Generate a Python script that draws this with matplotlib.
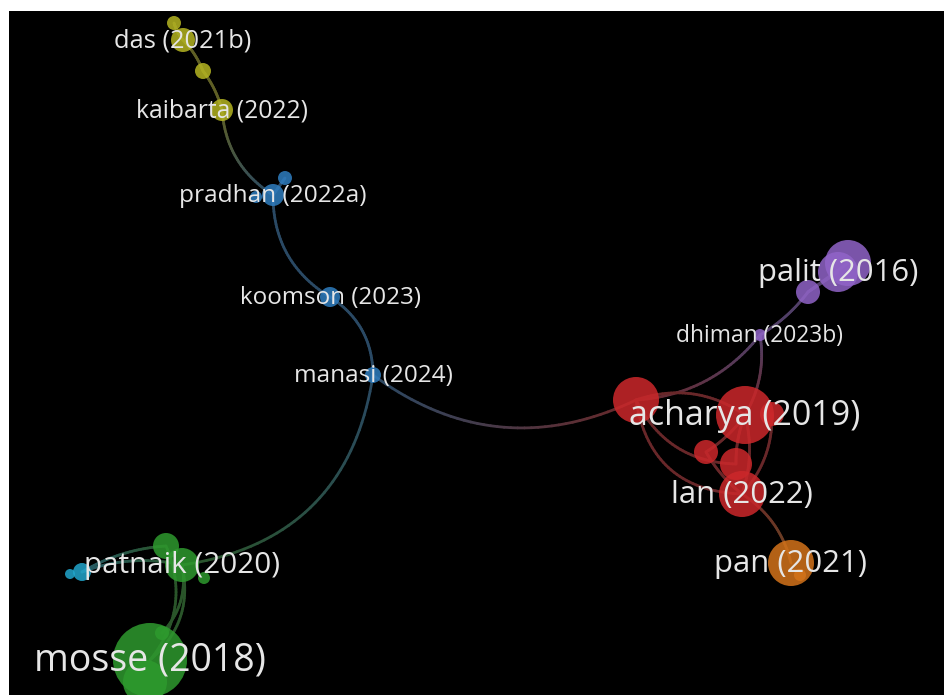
import numpy as np
import matplotlib.pyplot as plt
from matplotlib.patches import Circle
from matplotlib.collections import LineCollection
from matplotlib.colors import to_rgb

# cluster colours
group_colors = {
    'yellow': '#b5b522',
    'blue': '#2f7dc0',
    'purple': '#9164c8',
    'red': '#cc282b',
    'orange': '#d4731a',
    'green': '#2e9a2e',
    'cyan': '#22a6cc',
}

# nodes (x, y in map units, radius = weight)
node_x = [174, 183, 203, 222, 285, 273, 256, 330, 373,
          848, 838, 808, 760,
          636, 745, 772, 706, 736, 742,
          791, 800,
          166, 182, 204, 162, 150, 145,
          70, 82]
node_y = [23, 40, 71, 110, 178, 195, 197, 297, 375,
          263, 272, 292, 335,
          400, 415, 414, 452, 464, 494,
          563, 575,
          546, 565, 578, 633, 660, 682,
          574, 572]
node_w = [7, 12, 8, 11, 7, 11, 6, 10, 8,
          23, 20, 12, 6,
          23, 29, 12, 12, 16, 23,
          23, 6,
          13, 17, 6, 7, 37, 22,
          5, 9]
node_group = ['yellow'] * 4 + ['blue'] * 5 + ['purple'] * 4 + ['red'] * 6 + \
             ['orange'] * 2 + ['green'] * 6 + ['cyan'] * 2

# labels: node index, text, font size
label_node = [1, 3, 5, 7, 8, 12, 10, 14, 18, 19, 22, 25]
label_text = ['das (2021b)', 'kaibarta (2022)', 'pradhan (2022a)', 'koomson (2023)',
              'manasi (2024)', 'dhiman (2023b)', 'palit (2016)', 'acharya (2019)',
              'lan (2022)', 'pan (2021)', 'patnaik (2020)', 'mosse (2018)']
label_size = [18.4, 17.7, 17.6, 17.4, 17.5, 16.4, 22.3, 24.5, 22.4, 22.4, 21.3, 27]

# links: source, target, curvature
edge_src = [0, 1, 2, 3, 5, 5, 7, 8, 8, 13, 12, 11, 11, 12,
            13, 13, 13, 16, 16, 17, 14, 15, 18,
            22, 21, 22, 28, 28]
edge_dst = [1, 2, 3, 5, 4, 7, 8, 22, 13, 12, 11, 10, 9, 14,
            14, 18, 17, 14, 18, 14, 18, 18, 19,
            25, 25, 24, 22, 21]
edge_bend = [0.1, -0.1, -0.1, 0.25, 0.0, 0.28, -0.27, -0.37, 0.3, 0.22, 0.1, 0.0, 0.0, -0.18,
             -0.25, 0.41, 0.3, 0.1, 0.1, -0.1, -0.15, -0.2, -0.2,
             -0.3, -0.3, -0.25, -0.15, -0.12]

fig = plt.figure(figsize=(9.44, 6.95), dpi=100, facecolor='white')
ax = fig.add_axes([9 / 944, 0, 935 / 944, 684 / 695])
ax.set_facecolor('black')
ax.set_xlim(9, 944)
ax.set_ylim(695, 11)
ax.set_xticks([])
ax.set_yticks([])
for s in ax.spines.values():
    s.set_visible(False)

# curved links with colour running from one cluster to the other
t = np.linspace(0, 1, 40)
grey = np.array([0.6, 0.6, 0.6])
for a, b, k in zip(edge_src, edge_dst, edge_bend):
    p0 = np.array([node_x[a], node_y[a]], float)
    p2 = np.array([node_x[b], node_y[b]], float)
    d = p2 - p0
    n = np.array([-d[1], d[0]])
    p1 = (p0 + p2) / 2 + k * n
    pts = ((1 - t) ** 2)[:, None] * p0 + (2 * (1 - t) * t)[:, None] * p1 + (t ** 2)[:, None] * p2
    segs = np.stack([pts[:-1], pts[1:]], axis=1)
    c0 = np.array(to_rgb(group_colors[node_group[a]]))
    c1 = np.array(to_rgb(group_colors[node_group[b]]))
    tm = (t[:-1] + t[1:]) / 2
    cols = (1 - tm)[:, None] * c0 + tm[:, None] * c1
    # blend to black instead of alpha so the segments don't overlap visibly
    cols = 0.55 * (0.72 * cols + 0.28 * grey)
    lc = LineCollection(segs, colors=cols, linewidths=2.0,
                        capstyle='round', zorder=1)
    ax.add_collection(lc)

# nodes
for x, y, w, g in zip(node_x, node_y, node_w, node_group):
    ax.add_patch(Circle((x, y), w, facecolor=group_colors[g], edgecolor='none',
                        alpha=0.85, zorder=2))

# labels
for i, txt, fs in zip(label_node, label_text, label_size):
    ax.text(node_x[i], node_y[i] + 1, txt, ha='center', va='center', fontsize=fs,
            color='#e6e6e6', family='Open Sans', zorder=3)

fig.savefig('out.png', dpi=100, facecolor='white')
